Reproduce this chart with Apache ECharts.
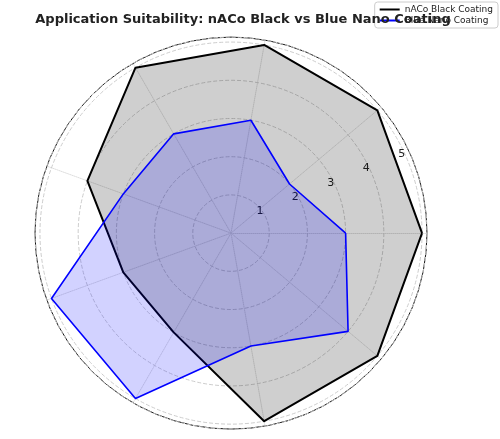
<!DOCTYPE html>
<html>
<head>
<meta charset="utf-8">
<script src="https://cdn.jsdelivr.net/npm/echarts@6/dist/echarts.min.js"></script>
<style>html,body{margin:0;padding:0;background:#fff}#chart{width:500px;height:439px}</style>
</head>
<body>
<div id="chart"></div>
<script>
var categories = ['Stainless Steel', 'Hardened Steel', 'Mold Steel', 'Cast Iron', 'Titanium Alloys',
    'Aluminum Alloys', 'Copper / Brass', 'High-Speed Machining', 'General Machining'];
var blackValues = [5, 5, 5, 5, 4, 3, 3, 5, 5];
var blueValues = [3, 2, 3, 3, 3, 5, 5, 3, 4];
var tickLabels = ['1', '2', '3', '4', '5'];

var center = ['46.2%', '53.1%'];
var radius = 196;
var rMax = 5.13;
var labelStart = 22;

var myChart = echarts.init(document.getElementById('chart'));
var option = {
    animation: false,
    title: {
        text: 'Application Suitability: nACo Black vs Blue Nano Coating',
        left: 238, top: 8, textAlign: 'center',
        textStyle: { fontSize: 13, fontWeight: 'bold', color: '#222', fontFamily: 'DejaVu Sans' }
    },
    legend: {
        right: 2, top: 2, orient: 'vertical', itemGap: 2,
        itemWidth: 20, itemHeight: 2, icon: 'rect',
        backgroundColor: 'rgba(255,255,255,0.8)', borderColor: '#ccc', borderWidth: 1, borderRadius: 3,
        padding: [3, 5],
        textStyle: { fontSize: 9, color: '#222', fontFamily: 'DejaVu Sans' },
        data: ['nACo Black Coating', 'Blue Nano Coating']
    },
    radar: {
        center: center, radius: radius, startAngle: 0, shape: 'polygon',
        splitNumber: 5,
        indicator: categories.map(function (c) { return { name: c, min: 0, max: rMax }; }),
        axisName: { show: false },
        splitArea: { show: false },
        splitLine: { lineStyle: { color: 'transparent' } },
        axisLine: { lineStyle: { color: '#ddd', type: 'dotted' } }
    },
    polar: { center: center, radius: radius },
    angleAxis: {
        type: 'value', min: 0, max: 360, startAngle: labelStart, clockwise: false,
        axisLine: { show: true, lineStyle: { color: '#111', width: 1 } },
        axisLabel: { show: false }, axisTick: { show: false }, splitLine: { show: false }
    },
    radiusAxis: {
        type: 'value', min: 0, max: rMax, interval: 1,
        axisLine: { show: false }, axisTick: { show: false },
        axisLabel: {
            fontSize: 11, color: '#222', fontFamily: 'DejaVu Sans',
            formatter: function (v) { return v > 0 && v <= 5 ? tickLabels[v - 1] : ''; }
        },
        splitLine: { show: true, lineStyle: { color: '#ccc', type: 'dashed' } },
        z: 1
    },
    series: [{
        type: 'radar', z: 3,
        symbol: 'none',
        data: [{
            name: 'nACo Black Coating', value: blackValues,
            lineStyle: { color: '#000', width: 2 },
            itemStyle: { color: '#000' },
            areaStyle: { color: 'rgba(0,0,0,0.27)' }
        }, {
            name: 'Blue Nano Coating', value: blueValues,
            lineStyle: { color: '#0000ff', width: 1.6 },
            itemStyle: { color: '#0000ff' },
            areaStyle: { color: 'rgba(0,0,255,0.25)' }
        }]
    }, {
        type: 'scatter', coordinateSystem: 'polar', z: 5,
        symbolSize: 0, silent: true,
        data: categories.map(function (c, i) {
            return { value: [5.45, i * 360 / categories.length - labelStart], name: c };
        }),
        label: {
            show: true, position: 'inside', color: '#222', fontSize: 9, fontFamily: 'DejaVu Sans',
            formatter: function (p) { return p.name; }
        }
    }]
};
myChart.setOption(option);
</script>
</body>
</html>
